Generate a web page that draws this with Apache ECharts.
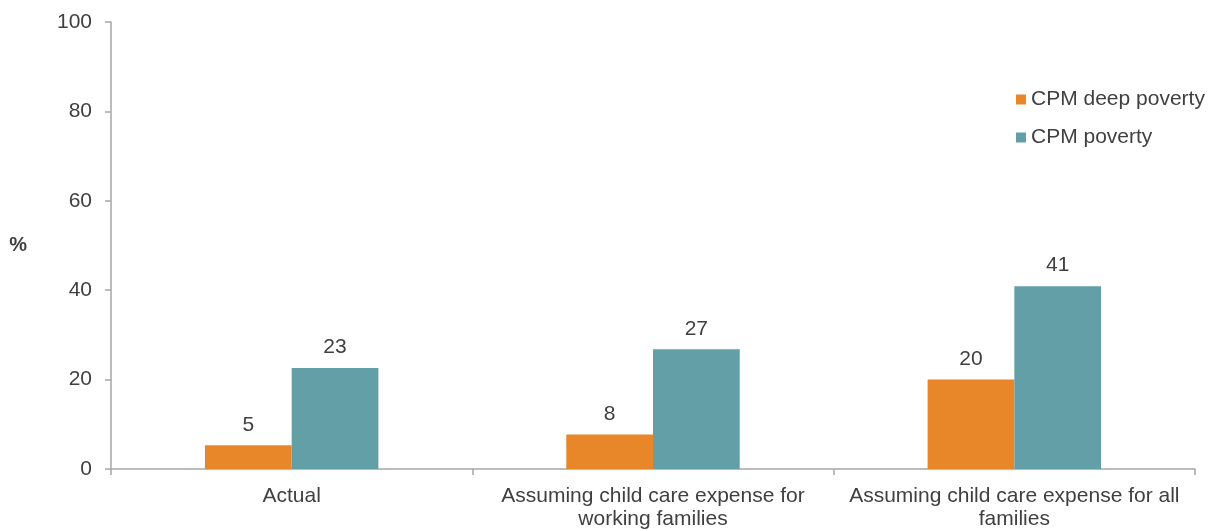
<!DOCTYPE html>
<html>
<head>
<meta charset="utf-8">
<script src="https://cdn.jsdelivr.net/npm/echarts@6/dist/echarts.min.js"></script>
<style>
html,body{margin:0;padding:0;background:#fff;}
#chart{width:1212px;height:531px;}
</style>
</head>
<body>
<div id="chart"></div>
<script>
var categories = [
  "Actual",
  "Assuming child care expense for\nworking families",
  "Assuming child care expense for all\nfamilies"
];
var deepPoverty = [5.3, 7.7, 20.0];
var poverty = [22.6, 26.8, 40.9];
var seriesNames = ["CPM deep poverty", "CPM poverty"];
var yTicks = { min: 0, max: 100, interval: 20 };

var textColor = '#404040';
var axisColor = '#A6A6A6';
var fontFamily = '"Liberation Sans", Arial, sans-serif';
var fs = 21;

var chart = echarts.init(document.getElementById('chart'), null, {renderer: 'canvas'});
var labelOpt = {
  show: true,
  position: 'top',
  distance: 10,
  color: textColor,
  fontSize: fs,
  fontFamily: fontFamily,
  formatter: function (p) { return Math.round(p.value); }
};
chart.setOption({
  animation: false,
  backgroundColor: '#ffffff',
  grid: { left: 111, right: 17, top: 22, bottom: 61, containLabel: false },
  legend: {
    orient: 'vertical',
    left: 1011,
    top: 84,
    itemWidth: 10,
    itemHeight: 10,
    itemGap: 17,
    icon: 'rect',
    textStyle: { color: textColor, fontSize: fs, fontFamily: fontFamily },
    data: seriesNames
  },
  xAxis: {
    type: 'category',
    data: categories,
    axisLine: { show: true, lineStyle: { color: axisColor, width: 1.5 } },
    axisTick: { show: true, alignWithLabel: false, length: 6, lineStyle: { color: axisColor, width: 1.5 } },
    axisLabel: {
      color: textColor, fontSize: fs, fontFamily: fontFamily,
      margin: 16, lineHeight: 23, interval: 0
    },
    splitLine: { show: false }
  },
  yAxis: {
    type: 'value',
    min: yTicks.min,
    max: yTicks.max,
    interval: yTicks.interval,
    name: '%',
    nameLocation: 'middle',
    nameRotate: 0,
    nameGap: 84,
    nameTextStyle: { color: textColor, fontSize: 20, fontWeight: 'bold', fontFamily: fontFamily },
    axisLine: { show: true, lineStyle: { color: axisColor, width: 1.5 } },
    axisTick: { show: true, length: 6, lineStyle: { color: axisColor, width: 1.5 } },
    axisLabel: { color: textColor, fontSize: fs, fontFamily: fontFamily, margin: 19 },
    splitLine: { show: false }
  },
  series: [
    {
      name: seriesNames[0],
      type: 'bar',
      data: deepPoverty,
      barWidth: '24%',
      barGap: '0%',
      itemStyle: { color: '#E8862A' },
      label: labelOpt
    },
    {
      name: seriesNames[1],
      type: 'bar',
      data: poverty,
      barWidth: '24%',
      barGap: '0%',
      itemStyle: { color: '#639FA6' },
      label: labelOpt
    }
  ]
});
</script>
</body>
</html>
